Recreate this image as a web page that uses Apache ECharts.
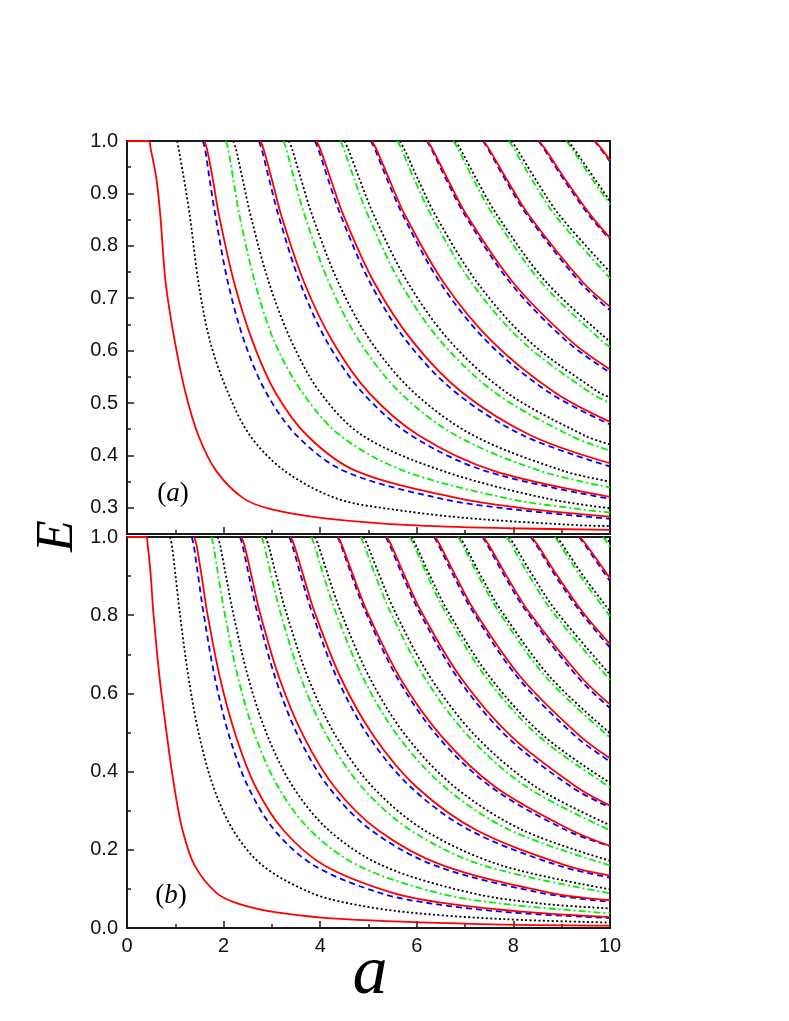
<!DOCTYPE html>
<html>
<head>
<meta charset="utf-8">
<script src="https://cdn.jsdelivr.net/npm/echarts@6/dist/echarts.min.js"></script>
<style>
  html, body { margin: 0; padding: 0; background: #fff; }
  #chart { width: 789px; height: 1021px; }
</style>
</head>
<body>
<div id="chart"></div>
<script>
// ---------------- data ----------------
// E levels at which each curve's crossing position a was read
const levelsTop = [1, 0.985, 0.927, 0.8575, 0.73, 0.6175, 0.52, 0.4375, 0.37, 0.3175, 0.297, 0.28, 0.267, 0.2575];
const levelsBottom = [1, 0.98, 0.9025, 0.81, 0.64, 0.49, 0.36, 0.25, 0.16, 0.09, 0.0625, 0.04, 0.0225, 0.01];

// panel (a): crossing a-values per curve; tail = extra [a, E] points up to a = 10
const redTop = [
  [0.44, 0.49, 0.61, 0.69, 0.80, 0.99, 1.21, 1.48, 1.85, 2.42, 3.0, 4.1, 5.86],
  [1.60, 1.656, 1.777, 1.907, 2.218, 2.6, 3.073, 3.734, 4.75, 6.9, 8.4],
  [2.76, 2.827, 2.998, 3.196, 3.668, 4.257, 5.007, 6.054, 7.61],
  [3.92, 3.999, 4.219, 4.484, 5.118, 5.914, 6.94, 8.374],
  [5.07, 5.161, 5.429, 5.762, 6.555, 7.557, 8.857],
  [6.22, 6.322, 6.64, 7.04, 7.993, 9.2],
  [7.38, 7.494, 7.861, 8.329, 9.443],
  [8.53, 8.656, 9.072, 9.607],
  [9.69, 9.827]
];
const redTopTail = [[[7.93, 0.261], [10, 0.258]], [[10, 0.283]], [[10, 0.321]], [[10, 0.385]], [[10, 0.464]],
  [[10, 0.564]], [[10, 0.684]], [[10, 0.815]], [[10, 0.963]]];

const blackTop = [
  [1.04, 1.07, 1.18, 1.30, 1.48, 1.72, 2.09, 2.55, 3.27, 4.35, 5.5, 7.1, 9.3],
  [2.20, 2.255, 2.394, 2.56, 2.938, 3.406, 4.0, 4.884, 6.55, 8.7],
  [3.35, 3.416, 3.604, 3.838, 4.375, 5.049, 5.942, 7.184, 9.048],
  [4.50, 4.578, 4.815, 5.116, 5.813, 6.691, 7.858, 9.484],
  [5.65, 5.739, 6.025, 6.393, 7.25, 8.334, 9.775],
  [6.80, 6.901, 7.236, 7.671, 8.688],
  [7.96, 8.073, 8.457, 8.96],
  [9.13, 9.255, 9.688]
];
const blackTopTail = [[[10, 0.265]], [[10, 0.299]], [[10, 0.35]], [[10, 0.421]], [[10, 0.511]],
  [[10, 0.617]], [[10, 0.75]], [[10, 0.885]]];

const blueTop = [
  [1.57, 1.615, 1.71, 1.83, 2.09, 2.43, 2.88, 3.52, 4.5, 6.5, 8.0],
  [2.73, 2.787, 2.943, 3.138, 3.581, 4.137, 4.873, 5.896, 7.43],
  [3.89, 3.959, 4.164, 4.427, 5.031, 5.794, 6.807, 8.216],
  [5.05, 5.13, 5.385, 5.716, 6.481, 7.451, 8.74],
  [6.21, 6.302, 6.606, 7.004, 7.931, 9.109],
  [7.37, 7.474, 7.827, 8.293, 9.381],
  [8.52, 8.635, 9.038, 9.571],
  [9.68, 9.807]
];
const blueTopTail = [[[10, 0.279]], [[10, 0.317]], [[10, 0.379]], [[10, 0.459]], [[10, 0.558]],
  [[10, 0.677]], [[10, 0.812]], [[10, 0.961]]];

const greenTop = [
  [2.05, 2.094, 2.2, 2.33, 2.65, 3.05, 3.63, 4.42, 5.75, 7.9, 9.4],
  [3.24, 3.296, 3.464, 3.681, 4.18, 4.813, 5.652, 6.822, 8.57],
  [4.42, 4.488, 4.706, 4.992, 5.655, 6.499, 7.618, 9.182],
  [5.60, 5.68, 5.948, 6.303, 7.13, 8.184, 9.585],
  [6.76, 6.852, 7.169, 7.592, 8.58, 9.841],
  [7.91, 8.013, 8.38, 8.87],
  [9.10, 9.215, 9.633]
];
const greenTopTail = [[[10, 0.291]], [[10, 0.339]], [[10, 0.409]], [[10, 0.50]], [[10, 0.607]],
  [[10, 0.738]], [[10, 0.879]]];

// panel (b)
const redBottom = [
  [0.39, 0.428, 0.491, 0.544, 0.675, 0.829, 0.98, 1.15, 1.40, 1.85, 2.3, 3.1, 4.5, 7.3],
  [1.39, 1.438, 1.543, 1.656, 1.925, 2.257, 2.667, 3.24, 4.088, 5.5, 6.64, 8.375],
  [2.37, 2.428, 2.575, 2.744, 3.15, 3.657, 4.3, 5.2, 6.538, 8.767],
  [3.39, 3.459, 3.648, 3.878, 4.425, 5.114, 6.0, 7.24, 9.088],
  [4.37, 4.448, 4.68, 4.967, 5.65, 6.514, 7.633, 9.2],
  [5.38, 5.469, 5.743, 6.089, 6.913, 7.957, 9.317],
  [6.38, 6.479, 6.796, 7.2, 8.163, 9.386],
  [7.38, 7.489, 7.848, 8.311, 9.413],
  [8.38, 8.499, 8.901, 9.422],
  [9.38, 9.509, 9.954]
];
const redBottomTail = [[[10, 0.006]], [[10, 0.028]], [[10, 0.071]], [[10, 0.134]], [[10, 0.21]],
  [[10, 0.313]], [[10, 0.434]], [[10, 0.572]], [[10, 0.726]], [[10, 0.894]]];

const blackBottom = [
  [0.89, 0.927, 1.004, 1.089, 1.274, 1.499, 1.792, 2.198, 2.805, 3.81, 4.616, 5.82, 7.827],
  [1.88, 1.927, 2.046, 2.189, 2.511, 2.913, 3.442, 4.178, 5.28, 7.11, 8.576],
  [2.87, 2.927, 3.088, 3.289, 3.749, 4.327, 5.092, 6.158, 7.755],
  [3.89, 3.958, 4.162, 4.422, 5.024, 5.784, 6.792, 8.198],
  [4.90, 4.978, 5.225, 5.544, 6.286, 7.227, 8.475],
  [5.89, 5.978, 6.267, 6.644, 7.524, 8.641],
  [6.89, 6.988, 7.32, 7.756, 8.774],
  [7.91, 8.018, 8.394, 8.889],
  [8.90, 9.018, 9.436],
  [9.90]
];
const blackBottomTail = [[[10, 0.0139]], [[10, 0.05]], [[10, 0.099]], [[10, 0.172]], [[10, 0.263]],
  [[10, 0.371]], [[10, 0.498]], [[10, 0.648]], [[10, 0.81]], [[10, 0.986]]];

const blueBottom = [
  [1.34, 1.379, 1.471, 1.579, 1.82, 2.119, 2.512, 3.056, 3.873, 5.227, 6.308, 7.93],
  [2.34, 2.389, 2.523, 2.69, 3.07, 3.547, 4.178, 5.056, 6.373, 8.56],
  [3.36, 3.419, 3.597, 3.823, 4.345, 5.004, 5.878, 7.096, 8.923],
  [4.36, 4.429, 4.649, 4.934, 5.595, 6.433, 7.545, 9.096],
  [5.36, 5.439, 5.702, 6.046, 6.845, 7.861, 9.212],
  [6.36, 6.449, 6.755, 7.157, 8.095, 9.29],
  [7.36, 7.46, 7.807, 8.268, 9.345],
  [8.36, 8.47, 8.86, 9.379],
  [9.36, 9.48, 9.913]
];
const blueBottomTail = [[[10, 0.0255]], [[10, 0.067]], [[10, 0.129]], [[10, 0.209]], [[10, 0.308]],
  [[10, 0.426]], [[10, 0.5625]], [[10, 0.717]], [[10, 0.887]]];

const greenBottom = [
  [1.75, 1.788, 1.888, 2.014, 2.3, 2.659, 3.133, 3.794, 4.78, 6.423, 7.74, 9.71],
  [2.79, 2.838, 2.983, 3.17, 3.6, 4.144, 4.867, 5.874, 7.38],
  [3.82, 3.879, 4.067, 4.314, 4.888, 5.616, 6.583, 7.934],
  [4.84, 4.909, 5.141, 5.448, 6.163, 7.073, 8.283],
  [5.86, 5.939, 6.215, 6.581, 7.438, 8.53],
  [6.86, 6.949, 7.267, 7.692, 8.688],
  [7.86, 7.96, 8.32, 8.803],
  [8.86, 8.97, 9.373],
  [9.86]
];
const greenBottomTail = [[[10, 0.038]], [[10, 0.089]], [[10, 0.16]], [[10, 0.25]], [[10, 0.36]],
  [[10, 0.487]], [[10, 0.634]], [[10, 0.797]], [[10, 0.975]]];

// axis ticks / labels
const yTopMajor = [0.3, 0.4, 0.5, 0.6, 0.7, 0.8, 0.9, 1.0];
const yTopMinor = [0.35, 0.45, 0.55, 0.65, 0.75, 0.85, 0.95];
const panelLabels = ['a', 'b'];
const axisTitles = { x: 'a', y: 'E' };

// ---------------- chart ----------------
const styles = {
  red:   { color: '#ff0000', width: 1.8, type: 'solid' },
  black: { color: '#000000', width: 1.8, type: [2, 2.4] },
  blue:  { color: '#0000ff', width: 1.8, type: [6, 4] },
  green: { color: '#00f000', width: 1.8, type: [7, 3, 2, 3] }
};

function buildCurve(row, tail, levels, flatLead) {
  const pts = [];
  if (flatLead) pts.push([0, 1]);
  row.forEach((a, j) => pts.push([a, levels[j]]));
  tail.forEach(p => pts.push(p));
  return pts;
}

const series = [];
function addFamily(rows, tails, levels, style, gridIdx, leadFirst) {
  rows.forEach((row, i) => {
    series.push({
      type: 'line',
      xAxisIndex: gridIdx,
      yAxisIndex: gridIdx,
      data: buildCurve(row, tails[i], levels, leadFirst && i === 0),
      showSymbol: false,
      smooth: 0.33,
      clip: true,
      silent: true,
      lineStyle: { color: style.color, width: style.width, type: style.type },
      z: 3
    });
  });
}
addFamily(greenTop, greenTopTail, levelsTop, styles.green, 0, false);
addFamily(blueTop, blueTopTail, levelsTop, styles.blue, 0, false);
addFamily(blackTop, blackTopTail, levelsTop, styles.black, 0, false);
addFamily(redTop, redTopTail, levelsTop, styles.red, 0, true);
addFamily(greenBottom, greenBottomTail, levelsBottom, styles.green, 1, false);
addFamily(blueBottom, blueBottomTail, levelsBottom, styles.blue, 1, false);
addFamily(blackBottom, blackBottomTail, levelsBottom, styles.black, 1, false);
addFamily(redBottom, redBottomTail, levelsBottom, styles.red, 1, true);

const axisColor = '#1a1a1a';
const labelFont = { fontFamily: 'Liberation Sans, Arial, sans-serif', fontSize: 20, color: '#111' };

function xAxisDef(gridIndex, showLabels) {
  return {
    type: 'value', gridIndex, min: 0, max: 10, interval: 2,
    axisLine: { show: true, onZero: false, lineStyle: { color: axisColor, width: 2 } },
    axisTick: { show: true, inside: true, length: 7, lineStyle: { color: axisColor, width: 1.5 } },
    minorTick: { show: true, splitNumber: 2, length: 4, lineStyle: { color: axisColor, width: 1.5 } },
    axisLabel: Object.assign({ show: showLabels, margin: 8, formatter: v => String(v) }, labelFont),
    splitLine: { show: false }, minorSplitLine: { show: false }
  };
}

const option = {
  animation: false,
  backgroundColor: '#ffffff',
  grid: [
    { left: 127, top: 141, width: 483, height: 393, show: true, borderColor: axisColor, borderWidth: 2, backgroundColor: 'transparent' },
    { left: 127, top: 537, width: 483, height: 391, show: true, borderColor: axisColor, borderWidth: 2, backgroundColor: 'transparent' }
  ],
  xAxis: [xAxisDef(0, false), xAxisDef(1, true)],
  yAxis: [
    {
      type: 'value', gridIndex: 0, min: 0.25, max: 1.0, interval: 0.05,
      axisLine: { show: true, onZero: false, lineStyle: { color: axisColor, width: 2 } },
      axisTick: { show: true, inside: true, length: 7, customValues: yTopMajor, lineStyle: { color: axisColor, width: 1.5 } },
      axisLabel: Object.assign({ margin: 9, customValues: yTopMajor,
        formatter: v => (Math.abs(v * 10 - Math.round(v * 10)) < 1e-6 ? v.toFixed(1) : '') }, labelFont),
      splitLine: { show: false }
    },
    {
      type: 'value', gridIndex: 1, min: 0, max: 1.0, interval: 0.2,
      axisLine: { show: true, onZero: false, lineStyle: { color: axisColor, width: 2 } },
      axisTick: { show: true, inside: true, length: 7, lineStyle: { color: axisColor, width: 1.5 } },
      minorTick: { show: true, splitNumber: 2, length: 4, lineStyle: { color: axisColor, width: 1.5 } },
      axisLabel: Object.assign({ margin: 9, formatter: v => v.toFixed(1) }, labelFont),
      splitLine: { show: false }, minorSplitLine: { show: false }
    },
    {
      type: 'value', gridIndex: 0, min: 0.25, max: 1.0, interval: 0.05, position: 'left',
      axisLine: { show: false },
      axisTick: { show: true, inside: true, length: 4, customValues: yTopMinor, lineStyle: { color: axisColor, width: 1.5 } },
      axisLabel: { show: false },
      splitLine: { show: false }
    }
  ],
  series: series,
  graphic: [
    {
      type: 'text', x: 58, y: 536, rotation: Math.PI / 2,
      style: { text: axisTitles.y, font: 'italic 52px "Liberation Serif", "DejaVu Serif", serif', fill: '#000',
        textAlign: 'center', textVerticalAlign: 'middle' }
    },
    {
      type: 'text', x: 370, y: 975,
      style: { text: axisTitles.x, font: 'italic 70px "Liberation Serif", "DejaVu Serif", serif', fill: '#000',
        textAlign: 'center', textVerticalAlign: 'middle' }
    },
    {
      type: 'text', x: 173, y: 494,
      style: { text: '{n|(}{i|' + panelLabels[0] + '}{n|)}', textAlign: 'center', textVerticalAlign: 'middle',
        rich: { n: { fontFamily: 'Liberation Serif, serif', fontSize: 27, fill: '#000', color: '#000' },
                i: { fontFamily: 'Liberation Serif, serif', fontStyle: 'italic', fontSize: 27, fill: '#000', color: '#000' } } }
    },
    {
      type: 'text', x: 171, y: 896,
      style: { text: '{n|(}{i|' + panelLabels[1] + '}{n|)}', textAlign: 'center', textVerticalAlign: 'middle',
        rich: { n: { fontFamily: 'Liberation Serif, serif', fontSize: 27, fill: '#000', color: '#000' },
                i: { fontFamily: 'Liberation Serif, serif', fontStyle: 'italic', fontSize: 27, fill: '#000', color: '#000' } } }
    }
  ]
};

const chart = echarts.init(document.getElementById('chart'), null, { renderer: 'canvas' });
chart.setOption(option);
</script>
</body>
</html>
